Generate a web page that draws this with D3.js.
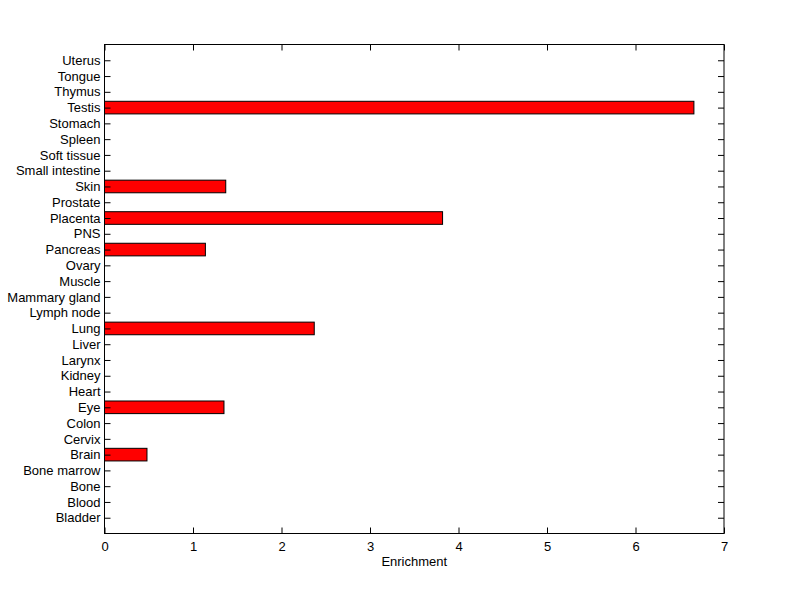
<!DOCTYPE html>
<html><head><meta charset="utf-8">
<script src="https://cdn.jsdelivr.net/npm/d3@7"></script>
<style>body{margin:0;background:#fff}svg{display:block}text{font-family:"Liberation Sans",Arial,sans-serif;font-size:13px;fill:#000}</style>
</head><body>
<script>
const categories = ["Bladder","Blood","Bone","Bone marrow","Brain","Cervix","Colon","Eye","Heart","Kidney","Larynx","Liver","Lung","Lymph node","Mammary gland","Muscle","Ovary","Pancreas","PNS","Placenta","Prostate","Skin","Small intestine","Soft tissue","Spleen","Stomach","Testis","Thymus","Tongue","Uterus"];
const values = [0,0,0,0,0.48,0,0,1.35,0,0,0,0,2.37,0,0,0,0,1.14,0,3.82,0,1.37,0,0,0,0,6.66,0,0,0];
const xTicks = [0,1,2,3,4,5,6,7];
const xLabel = "Enrichment";

const W=800,H=599;
const L=104.5,R=724,T=44.5,B=533.5;
const svg=d3.select("body").append("svg").attr("width",W).attr("height",H);
const x=d3.scaleLinear().domain([0,7]).range([L,R]);
const y=d3.scaleLinear().domain([0,categories.length+1]).range([B,T]);
const bh=(B-T)/(categories.length+1)*0.8;

const data=categories.map((c,i)=>({c,i,v:values[i]})).filter(d=>d.v>0);
svg.append("g").selectAll("rect").data(data).join("rect")
  .attr("x",x(0)).attr("y",d=>y(d.i+1)-bh/2).attr("width",d=>x(d.v)-x(0)).attr("height",bh)
  .attr("fill","#ff0000").attr("stroke","#000").attr("stroke-width",1);

const tl=6;
const gB=svg.append("g").attr("transform",`translate(0,${B})`)
  .call(d3.axisBottom(x).tickValues(xTicks).tickFormat(d3.format("d")).tickSizeInner(-tl).tickSizeOuter(0).tickPadding(8));
const gT=svg.append("g").attr("transform",`translate(0,${T})`)
  .call(d3.axisTop(x).tickValues(xTicks).tickFormat("").tickSizeInner(-tl).tickSizeOuter(0));
const yt=categories.map((c,i)=>i+1);
const gL=svg.append("g").attr("transform",`translate(${L},0)`)
  .call(d3.axisLeft(y).tickValues(yt).tickFormat(d=>categories[d-1]).tickSizeInner(-tl).tickSizeOuter(0));
const gR=svg.append("g").attr("transform",`translate(${R},0)`)
  .call(d3.axisRight(y).tickValues(yt).tickFormat("").tickSizeInner(-tl).tickSizeOuter(0));
[gB,gT,gL,gR].forEach(g=>{g.selectAll("path.domain").remove();g.selectAll("line").attr("stroke","#000");g.selectAll("text").attr("font-family",null).attr("font-size",null).attr("fill","#000");});
gL.selectAll("text").attr("x",-4);
svg.append("rect").attr("x",L).attr("y",T).attr("width",R-L).attr("height",B-T).attr("fill","none").attr("stroke","#000");
svg.append("text").attr("x",(L+R)/2).attr("y",566).attr("text-anchor","middle").text(xLabel);
</script>
</body></html>
